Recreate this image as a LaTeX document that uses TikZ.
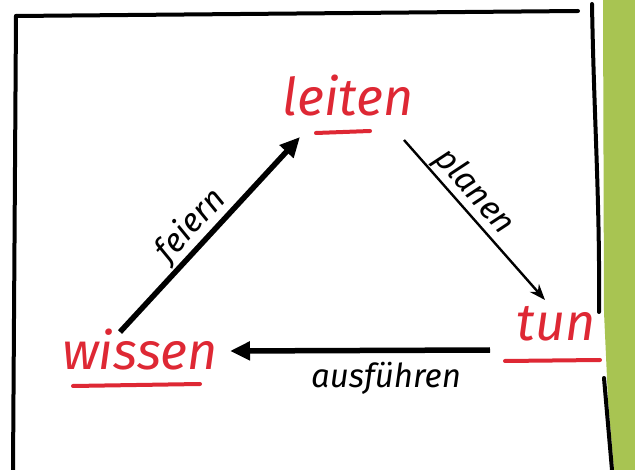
\documentclass[tikz,border=0pt]{standalone}
\usepackage{fontspec}
\setmainfont{Fira Sans}
\usetikzlibrary{arrows.meta,calc}
\definecolor{penred}{RGB}{222,40,52}
\definecolor{boardgreen}{RGB}{168,196,82}
\tikzset{
  word/.style={text=penred, font=\fontsize{52}{54}\selectfont\itshape, inner sep=2pt},
  uline/.style={penred, line width=4pt, line cap=round},
  lbl/.style={font=\fontsize{33}{35}\selectfont\itshape, inner sep=1pt},
  thick arrow/.style={line width=5.5pt, -{Triangle[length=20pt,width=18pt]}},
  thin arrow/.style={line width=2.4pt, -{Stealth[length=16pt,width=12pt]}},
  frame/.style={line width=4pt, line cap=round}
}
\begin{document}
\begin{tikzpicture}[x=1pt,y=-1pt]
\useasboundingbox (0,0) rectangle (635,470);
\fill[white] (0,0) rectangle (635,470);
% green board strip
\fill[boardgreen] (603,0) -- (635,0) -- (635,470) -- (614,470) -- (608,400) -- (604,312) -- cycle;
% frame
\draw[frame] (16,16) -- (578,11);
\draw[frame] (16,16) -- (13,470);
\draw[frame] (592,4) .. controls (594,120) and (600,200) .. (599,312);
\draw[frame] (604,378) -- (612,470);
% nodes
\node[word] (leiten) at (348,96) {leiten};
\node[word] (tun) at (556,324) {tun};
\node[word] (wissen) at (140,350) {wissen};
% underlines
\coordinate (l1) at (316,133); \coordinate (l2) at (370,131);
\draw[uline] (l1) -- (l2);
\coordinate (t1) at (505,361); \coordinate (t2) at (600,360);
\draw[uline] (t1) -- (t2);
\coordinate (w1) at (73,386); \coordinate (w2) at (200,384);
\draw[uline] (w1) -- (w2);
% arrows
\coordinate (fS) at (120,332); \coordinate (fE) at (300,137);
\draw[thick arrow] (fS) -- (fE) node[lbl, pos=0.5, sloped, above=0pt, xshift=-6pt] (feiern) {feiern};
\coordinate (pS) at (404,140); \coordinate (pE) at (545,300);
\draw[thin arrow] (pS) -- (pE) node[lbl, pos=0.4, sloped, above=0pt] (planen) {planen};
\coordinate (aS) at (490,350); \coordinate (aE) at (230,351);
\draw[thick arrow] (aS) -- (aE) node[lbl, pos=0.4, below=8pt] (aus) {ausführen};
\end{tikzpicture}
\end{document}
